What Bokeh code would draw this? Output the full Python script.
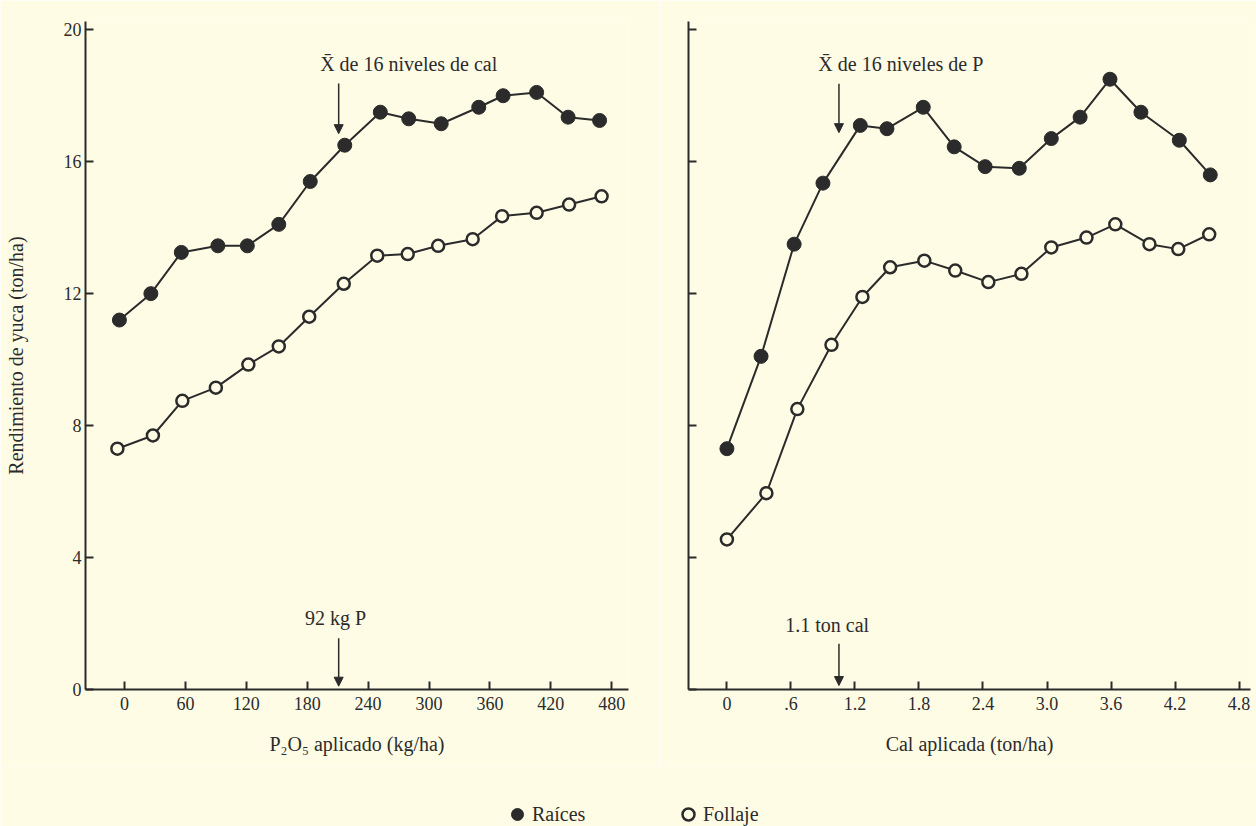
from bokeh.plotting import figure
from bokeh.models import (Range1d, FixedTicker, Label, Arrow, NormalHead, Legend,
                          LegendItem, CustomJSTickFormatter)
from bokeh.layouts import column, row
from bokeh.embed import file_html
from bokeh.resources import INLINE

# ---------------- data ----------------
p2o5_raices = [-5, 26, 56, 92, 121, 152, 183, 217, 252, 280, 312, 349, 373, 406, 437, 468]
raices_p = [11.2, 12.0, 13.25, 13.45, 13.45, 14.1, 15.4, 16.5, 17.5, 17.3, 17.15, 17.65, 18.0, 18.1, 17.35, 17.25]
p2o5_follaje = [-7, 28, 57, 90, 122, 152, 182, 216, 249, 279, 309, 343, 372, 406, 438, 470]
follaje_p = [7.3, 7.7, 8.75, 9.15, 9.85, 10.4, 11.3, 12.3, 13.15, 13.2, 13.45, 13.65, 14.35, 14.45, 14.7, 14.95]

cal_raices = [0.0, 0.32, 0.63, 0.90, 1.25, 1.50, 1.84, 2.13, 2.42, 2.74, 3.04, 3.31, 3.59, 3.88, 4.24, 4.53]
raices_cal = [7.3, 10.1, 13.5, 15.35, 17.1, 17.0, 17.65, 16.45, 15.85, 15.8, 16.7, 17.35, 18.5, 17.5, 16.65, 15.6]
cal_follaje = [0.0, 0.37, 0.66, 0.98, 1.27, 1.53, 1.85, 2.14, 2.45, 2.76, 3.04, 3.37, 3.64, 3.96, 4.23, 4.52]
follaje_cal = [4.55, 5.95, 8.5, 10.45, 11.9, 12.8, 13.0, 12.7, 12.35, 12.6, 13.4, 13.7, 14.1, 13.5, 13.35, 13.8]

y_ticks = [0, 4, 8, 12, 16, 20]
p_ticks = [0, 60, 120, 180, 240, 300, 360, 420, 480]
cal_ticks = [0, 0.6, 1.2, 1.8, 2.4, 3.0, 3.6, 4.2, 4.8]

p_opt = 211      # 92 kg P expressed as P2O5
cal_opt = 1.05   # 1.1 ton cal

# ---------------- style ----------------
BG = "#FFFCE6"
INK = "#2b2b2b"
FONT = "Liberation Serif"
TXT = "20px"


def base_style(p):
    p.background_fill_color = BG
    p.border_fill_color = BG
    p.outline_line_color = None
    p.xgrid.visible = False
    p.ygrid.visible = False
    for ax in list(p.xaxis) + list(p.yaxis):
        ax.axis_line_color = INK
        ax.axis_line_width = 2
        ax.major_tick_line_color = INK
        ax.major_tick_line_width = 2
        ax.major_tick_in = 8
        ax.major_tick_out = 0
        ax.minor_tick_line_color = None
        ax.major_label_text_font = FONT
        ax.major_label_text_font_size = "18px"
        ax.major_label_text_color = INK
        ax.axis_label_text_font = FONT
        ax.axis_label_text_font_size = TXT
        ax.axis_label_text_font_style = "normal"
        ax.axis_label_text_color = INK


def draw_series(p, x1, y1, x2, y2):
    p.line(x1, y1, line_color=INK, line_width=2)
    p.scatter(x1, y1, size=14, fill_color=INK, line_color=INK)
    p.line(x2, y2, line_color=INK, line_width=2)
    p.scatter(x2, y2, size=12, fill_color=BG, line_color=INK, line_width=2.5)


def note(p, x, y, text):
    p.add_layout(Label(x=x, y=y, text=text, text_font=FONT, text_font_size=TXT,
                       text_color=INK, text_align="center", text_baseline="middle"))


def arrow(p, x, y0, y1):
    p.add_layout(Arrow(end=NormalHead(size=9, fill_color=INK, line_color=INK),
                       x_start=x, y_start=y0, x_end=x, y_end=y1,
                       line_color=INK, line_width=1.5))


# ---------------- left panel ----------------
pL = figure(width=660, height=765, title=None,
            x_range=Range1d(-38.4, 496.5), y_range=Range1d(0, 20.25),
            output_backend="svg", toolbar_location=None,
            min_border_left=85, min_border_right=32,
            min_border_top=21, min_border_bottom=76)
base_style(pL)
pL.xaxis.ticker = FixedTicker(ticks=p_ticks)
pL.yaxis.ticker = FixedTicker(ticks=y_ticks)
pL.yaxis.major_label_standoff = 4
pL.xaxis.major_label_standoff = 7
pL.yaxis.axis_label = "Rendimiento de yuca (ton/ha)"
pL.yaxis.axis_label_standoff = 34
pL.xaxis.axis_label = "P\u2082O\u2085 aplicado (kg/ha)"
pL.xaxis.axis_label_standoff = 20
draw_series(pL, p2o5_raices, raices_p, p2o5_follaje, follaje_p)

note(pL, 280, 18.97, "X\u0304 de 16 niveles de cal")
arrow(pL, p_opt, 18.37, 16.85)
note(pL, 208, 2.18, "92 kg P")
arrow(pL, p_opt, 1.55, 0.1)

# ---------------- right panel ----------------
pR = figure(width=596, height=765, title=None,
            x_range=Range1d(-0.36, 4.907), y_range=Range1d(0, 20.25),
            output_backend="svg", toolbar_location=None,
            min_border_left=28, min_border_right=6,
            min_border_top=21, min_border_bottom=76)
base_style(pR)
pR.xaxis.ticker = FixedTicker(ticks=cal_ticks)
pR.xaxis.formatter = CustomJSTickFormatter(code="""
    if (Math.abs(tick) < 1e-9) return '0';
    const s = tick.toFixed(1);
    return s.startsWith('0') ? s.slice(1) : s;
""")
pR.yaxis.ticker = FixedTicker(ticks=y_ticks)
pR.yaxis.formatter = CustomJSTickFormatter(code="return '';")
pR.xaxis.major_label_standoff = 7
pR.xaxis.axis_label = "Cal aplicada (ton/ha)"
pR.xaxis.axis_label_standoff = 20
draw_series(pR, cal_raices, raices_cal, cal_follaje, follaje_cal)

note(pR, 1.63, 18.97, "X\u0304 de 16 niveles de P")
arrow(pR, cal_opt, 18.36, 16.88)
note(pR, 0.94, 1.97, "1.1 ton cal")
arrow(pR, cal_opt, 1.39, 0.12)

# ---------------- legend strip ----------------
leg = figure(width=1256, height=61, title=None, x_range=Range1d(0, 1), y_range=Range1d(0, 1),
             output_backend="svg", toolbar_location=None,
             x_axis_location=None, y_axis_location=None,
             min_border=0, min_border_left=0, min_border_right=0,
             min_border_top=0, min_border_bottom=0)
leg.background_fill_color = BG
leg.border_fill_color = BG
leg.outline_line_color = None
leg.xgrid.visible = False
leg.ygrid.visible = False
# key glyphs only: their single point lies outside the strip's visible range
r_raices = leg.scatter([-5], [-5], size=14, fill_color=INK, line_color=INK)
r_follaje = leg.scatter([-5], [-5], size=12, fill_color=BG, line_color=INK, line_width=2.5)


def make_legend(label, rend, xloc):
    return Legend(items=[LegendItem(label=label, renderers=[rend])], location=(xloc, -3),
                  orientation="horizontal", padding=0, margin=0, border_line_color=None,
                  background_fill_alpha=0, glyph_width=30, glyph_height=30, label_standoff=0,
                  label_text_font=FONT, label_text_font_size=TXT, label_text_color=INK)


leg.add_layout(make_legend("Raíces", r_raices, 502))
leg.add_layout(make_legend("Follaje", r_follaje, 673))

layout = column(row(pL, pR), leg)
open("out.html", "w").write(file_html(layout, INLINE))
